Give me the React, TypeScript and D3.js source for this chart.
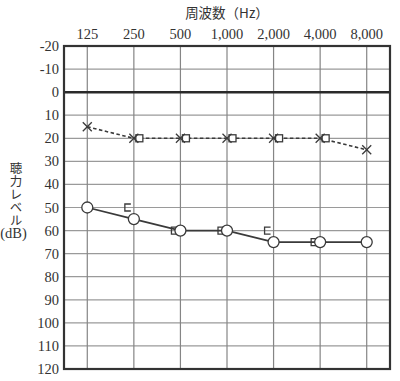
import React from "react";
import * as d3 from "d3";

const freqs = [125, 250, 500, 1000, 2000, 4000, 8000];
const freqLabels = ["125", "250", "500", "1,000", "2,000", "4,000", "8,000"];
const dbTicks = [-20, -10, 0, 10, 20, 30, 40, 50, 60, 70, 80, 90, 100, 110, 120];

// right ear air conduction (circles, solid line)
const rightAir = [50, 55, 60, 60, 65, 65, 65];
// right ear bone conduction (⊏ marks)
const rightBoneFreqs = [250, 500, 1000, 2000, 4000];
const rightBone = [50, 60, 60, 60, 65];
// left ear air conduction (× marks, dashed line)
const leftAir = [15, 20, 20, 20, 20, 20, 25];
// left ear bone conduction (square marks)
const leftBoneFreqs = [250, 500, 1000, 2000, 4000];
const leftBone = [20, 20, 20, 20, 20];

const W = 400;
const H = 381;
const L = 64, R = 390, T = 46, B = 369;

export default function App() {
  const x = d3.scaleLog().base(2).domain([125 / Math.SQRT2, 8000 * Math.SQRT2]).range([L, R]);
  const y = d3.scaleLinear().domain([-20, 120]).range([T, B]);
  const serif = "'Liberation Serif', 'DejaVu Serif', serif";
  const cjk = "'Noto Sans CJK JP', sans-serif";
  const ink = "#3a3a3a";

  const lineGen = d3.line<number>().x((_, i) => x(freqs[i])).y((d) => y(d));

  return (
    <svg width={W} height={H} style={{ position: "absolute", left: 0, top: 0, background: "#fff" }}>
      <rect x={0} y={0} width={W} height={H} fill="#fff" />
      {/* horizontal grid */}
      {dbTicks.map((d) => (
        <line key={"h" + d} x1={L} x2={R} y1={y(d)} y2={y(d)} stroke="#9a9a9a" strokeWidth={1.2} />
      ))}
      {/* vertical grid */}
      {freqs.map((f) => (
        <line key={"v" + f} x1={x(f)} x2={x(f)} y1={T} y2={B} stroke="#858585" strokeWidth={1.2} />
      ))}
      {/* zero line */}
      <line x1={L} x2={R} y1={y(0)} y2={y(0)} stroke="#2a2a2a" strokeWidth={2.5} />
      {/* border */}
      <rect x={L} y={T} width={R - L} height={B - T} fill="none" stroke="#333" strokeWidth={2.2} />

      {/* x labels */}
      {freqs.map((f, i) => (
        <text key={"xl" + f} x={x(f)} y={39} textAnchor="middle" fontFamily={serif} fontSize={14.5} fill="#333">
          {freqLabels[i]}
        </text>
      ))}
      <text x={(L + R) / 2} y={18} textAnchor="middle" fontFamily={cjk} fontSize={13.5} fill="#333">
        周波数（Hz）
      </text>

      {/* y labels */}
      {dbTicks.map((d) => (
        <text key={"yl" + d} x={59} y={y(d) + 5} textAnchor="end" fontFamily={serif} fontSize={14.5} fill="#333">
          {d}
        </text>
      ))}
      <text x={16} y={162} fontFamily={cjk} fontSize={12.5} fill="#333"
        style={{ writingMode: "vertical-rl", textOrientation: "upright" }} letterSpacing={0.5}>
        聴力レベル
      </text>
      <text x={13.5} y={238} textAnchor="middle" fontFamily={serif} fontSize={14.5} fill="#333">
        (dB)
      </text>

      {/* left air dashed line */}
      <path d={lineGen(leftAir) || ""} fill="none" stroke={ink} strokeWidth={1.6} strokeDasharray="3.5,2.5" />
      {/* left bone squares */}
      {leftBoneFreqs.map((f, i) => (
        <rect key={"lb" + f} x={x(f) + 2} y={y(leftBone[i]) - 3.5} width={7} height={7} fill="#fff" stroke={ink} strokeWidth={1.3} />
      ))}
      {/* left air X */}
      {freqs.map((f, i) => {
        const cx = x(f), cy = y(leftAir[i]), s = 4.5;
        return (
          <g key={"lx" + f} stroke={ink} strokeWidth={1.3}>
            <line x1={cx - s} y1={cy - s} x2={cx + s} y2={cy + s} />
            <line x1={cx - s} y1={cy + s} x2={cx + s} y2={cy - s} />
          </g>
        );
      })}

      {/* right air solid line */}
      <path d={lineGen(rightAir) || ""} fill="none" stroke={ink} strokeWidth={1.8} />
      {/* right bone ⊏ */}
      {rightBoneFreqs.map((f, i) => {
        const cx = x(f), cy = y(rightBone[i]);
        return (
          <path key={"rb" + f}
            d={`M${cx - 3},${cy - 3.5} H${cx - 9} V${cy + 3.5} H${cx - 3}`}
            fill="none" stroke={ink} strokeWidth={1.3} />
        );
      })}
      {/* right air circles */}
      {freqs.map((f, i) => (
        <circle key={"rc" + f} cx={x(f)} cy={y(rightAir[i])} r={5.5} fill="#fff" stroke={ink} strokeWidth={1.3} />
      ))}
    </svg>
  );
}
